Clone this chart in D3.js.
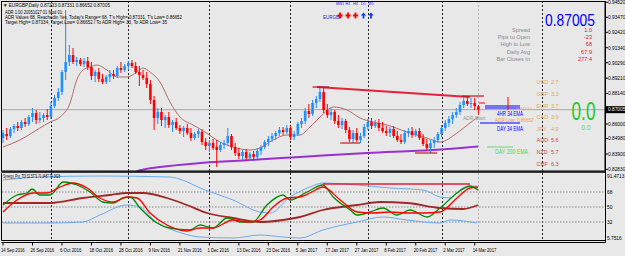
<!DOCTYPE html>
<html><head><meta charset="utf-8">
<script src="https://cdn.jsdelivr.net/npm/d3@7"></script>
<style>
body{margin:0;background:#e8e8e8}
svg{display:block}
text{font-family:"Liberation Sans",Arial,sans-serif}
</style>
</head><body>
<svg id="c" width="625" height="256"></svg>
<script>
// ---------------- DATA ----------------
const opens=[.8502,.8530,.8516,.8565,.8586,.8572,.8614,.8600,.8649,.8677,
.8628,.8642,.8663,.8649,.8726,.8782,.8824,.8964,.9034,.9083,
.9034,.9048,.9020,.9041,.8999,.8936,.8964,.8915,.8894,.8929,
.8950,.8936,.8992,.8978,.9006,.9027,.9006,.8964,.8943,.8922,
.8880,.8768,.8642,.8684,.8628,.8649,.8593,.8614,.8572,.8551,
.8572,.8537,.8502,.8530,.8544,.8474,.8446,.8467,.8439,.8418,
.8453,.8467,.8516,.8439,.8397,.8376,.8404,.8362,.8390,.8369,
.8411,.8439,.8474,.8495,.8516,.8537,.8558,.8544,.8572,.8509,
.8530,.8600,.8621,.8691,.8670,.8747,.8775,.8824,.8698,.8663,
.8684,.8621,.8593,.8621,.8558,.8495,.8537,.8488,.8516,.8579,
.8614,.8586,.8607,.8572,.8551,.8537,.8565,.8516,.8488,.8474,
.8537,.8551,.8523,.8551,.8502,.8460,.8432,.8467,.8488,.8530,
.8572,.8607,.8635,.8663,.8684,.8733,.8761,.8740,.8747,.87233];
const highs=[.8558,.8572,.8579,.8600,.8614,.8628,.8642,.8663,.8712,.8698,
.8684,.8677,.8705,.8754,.8803,.8852,.8978,.9398,.9153,.9132,
.9069,.9062,.9062,.9069,.9034,.8978,.8992,.8950,.8943,.8978,
.8978,.9006,.9034,.9020,.9041,.9048,.9034,.9006,.8978,.8964,
.8908,.8796,.8712,.8712,.8663,.8684,.8628,.8642,.8593,.8586,
.8600,.8572,.8544,.8565,.8565,.8502,.8488,.8495,.8488,.8474,
.8488,.8572,.8530,.8467,.8432,.8418,.8425,.8404,.8411,.8432,
.8453,.8488,.8516,.8537,.8551,.8579,.8579,.8593,.8586,.8551,
.8614,.8642,.8712,.8740,.8768,.8796,.8859,.8852,.8740,.8712,
.8698,.8663,.8642,.8635,.8579,.8558,.8572,.8537,.8600,.8635,
.8642,.8628,.8635,.8614,.8586,.8579,.8586,.8551,.8530,.8558,
.8572,.8579,.8565,.8572,.8530,.8495,.8488,.8509,.8544,.8593,
.8628,.8656,.8684,.8712,.8754,.8782,.8789,.8782,.8782,.87331];
const lows=[.8467,.8488,.8502,.8537,.8551,.8558,.8579,.8586,.8614,.8600,
.8607,.8614,.8628,.8635,.8712,.8761,.8803,.8908,.9006,.9020,
.9006,.9006,.8999,.8978,.8908,.8894,.8894,.8880,.8880,.8894,
.8915,.8922,.8957,.8964,.8978,.8992,.8950,.8866,.8908,.8852,
.8740,.8558,.8600,.8586,.8572,.8572,.8544,.8558,.8530,.8509,
.8523,.8481,.8488,.8502,.8453,.8418,.8404,.8418,.8299,.8404,
.8425,.8446,.8418,.8376,.8355,.8348,.8341,.8341,.8348,.8355,
.8383,.8425,.8446,.8474,.8488,.8516,.8523,.8530,.8488,.8488,
.8516,.8572,.8600,.8642,.8656,.8712,.8754,.8677,.8642,.8628,
.8600,.8572,.8565,.8537,.8474,.8467,.8474,.8467,.8502,.8558,
.8565,.8572,.8551,.8537,.8516,.8509,.8502,.8474,.8460,.8460,
.8509,.8502,.8509,.8488,.8446,.8418,.8397,.8432,.8467,.8509,
.8551,.8579,.8600,.8642,.8663,.8712,.8726,.8712,.8698,.86652];
const closes=[.8537,.8516,.8565,.8586,.8572,.8614,.8600,.8649,.8677,.8628,
.8642,.8663,.8649,.8726,.8782,.8824,.8964,.9034,.9083,.9034,
.9048,.9020,.9041,.8999,.8936,.8964,.8915,.8894,.8929,.8950,
.8936,.8992,.8978,.9006,.9027,.9006,.8964,.8943,.8922,.8880,
.8768,.8642,.8684,.8628,.8649,.8593,.8614,.8572,.8551,.8572,
.8537,.8502,.8530,.8551,.8474,.8446,.8467,.8432,.8418,.8453,
.8467,.8516,.8439,.8397,.8376,.8404,.8362,.8390,.8369,.8411,
.8439,.8474,.8495,.8516,.8537,.8558,.8544,.8572,.8509,.8530,
.8600,.8621,.8691,.8670,.8747,.8775,.8824,.8698,.8663,.8684,
.8621,.8593,.8621,.8558,.8495,.8537,.8488,.8516,.8579,.8614,
.8586,.8607,.8572,.8551,.8537,.8565,.8516,.8488,.8474,.8537,
.8551,.8523,.8551,.8502,.8460,.8432,.8467,.8488,.8530,.8572,
.8607,.8635,.8663,.8684,.8733,.8761,.8740,.8747,.8726,.87005];

const dateLabels=["14 Sep 2016","26 Sep 2016","6 Oct 2016","18 Oct 2016","28 Oct 2016","9 Nov 2016","21 Nov 2016","1 Dec 2016","13 Dec 2016","23 Dec 2016","5 Jan 2017","17 Jan 2017","27 Jan 2017","8 Feb 2017","20 Feb 2017","2 Mar 2017","14 Mar 2017"];
const dateLabelBars=[0,8,16,24,32,40,48,56,64,72,80,88,96,104,112,120,128];
const priceTicks=[0.9452,0.9347,0.9242,0.9134,0.9029,0.8921,0.8814,0.8600,0.8498,0.8390,0.8283];
const priceTickLabels=["0.94520","0.93470","0.92420","0.91340","0.90290","0.89210","0.88140","0.86000","0.84980","0.83900","0.82830"];
const lastPrice=0.87005;
const monthSepBars=[13,34,56,78,99,119,146.3];
const currentBar=129;

// MA lines [bar, price]
const maFast=[[0,.8439],[4.6,.8488],[10,.8572],[12.8,.8614],[15.5,.8649],[18.2,.8747],[20,.8908],[21.7,.8978],[23.6,.8999],[25.5,.9013],[28.2,.8978],[31,.8929],[33.6,.8929],[36.4,.8964],[38,.8992],[39.9,.8964],[42.6,.8894],[45.3,.8754],[48,.8649],[51.6,.8593],[54.8,.8544],[58.9,.8474],[62.4,.8439],[67,.8418],[69.7,.8432],[73.3,.8488],[77,.8523],[80.6,.8523],[83.3,.8579],[86.6,.8663],[89.6,.8719],[93.4,.8698],[96.9,.8642],[100.4,.8614],[104.2,.8593],[109.6,.8544],[115,.8502],[118.6,.8474],[123.2,.8537],[126.7,.8607],[128.9,.8649]];
const ma200=[[28,.8150],[37.2,.8276],[42.6,.8299],[53.5,.8327],[67,.8348],[80.6,.8369],[98.8,.8397],[116.7,.8418],[128.9,.8443]];
const resistance=[[85.2,.8859],[126.7,.8789]];
const resHoriz=[[[84,.8859],[88.5,.8859]],[[124.5,.8796],[130.5,.8796]]];
const supports=[[[91.5,.8467],[96.9,.8467]],[[111.8,.8397],[117.8,.8397]]];

// TDI [bar, value]
const tdiGreen=[[0,52.4],[3.8,64.4],[6.5,66.8],[7.9,71.6],[10,64.4],[12.8,64.4],[16.3,80],[20.1,76.4],[23.6,68],[27.1,56],[29.9,54.8],[32.6,60.8],[34.5,62],[37.2,48.8],[41.8,30.8],[45.3,24.8],[50.7,22.4],[53.5,28.4],[57,24.8],[60.8,36.8],[64.3,32],[67.8,32],[71.6,52.4],[76,64.4],[77.9,58.4],[82.5,68],[86.8,76.4],[89.6,62],[94.2,46.4],[96.1,40.4],[99.6,44],[103.1,48.8],[106.9,40.4],[110.4,46.4],[115.1,38],[118.6,48.8],[123.2,66.8],[126.7,75.2],[128.9,70.4]];
const tdiRed=[[0,44],[3.8,58.4],[8.1,66.8],[11.9,66.8],[15.5,74],[19,78.8],[22.8,72.8],[26.3,60.8],[29.9,56],[33.6,62],[36.4,60.8],[39.9,42.8],[44.5,28.4],[49.9,21.2],[53.5,24.8],[57,24.8],[62.4,34.4],[66.2,32],[69.7,34.4],[73.3,50],[77.1,60.8],[80.6,62],[83.3,66.8],[86.8,74],[91.5,58.4],[96.1,44],[100.4,42.8],[105,44],[109.6,42.8],[114,42.8],[118.6,44],[123.2,60.8],[126.7,72.8],[128.9,74]];
const tdiBase=[[0,54.8],[12.8,54.8],[21.7,60.8],[29,64.4],[33.6,66.8],[38,66.8],[44.5,60.8],[49.9,52.4],[55.4,42.8],[62.4,36.8],[69.7,32],[76,34.4],[80.6,38],[86.8,46.4],[96.1,52.4],[102.3,56],[109.6,54.8],[118.6,48.8],[124.8,47.6],[128.9,52.4]];
const tdiUpper=[[0,82.4],[10,86],[26.3,87.2],[45.3,86],[48.9,82],[53.5,72.8],[62.4,58.4],[69.7,44],[72.5,42.8],[77.9,62],[83.3,74],[86.8,78.8],[96.1,76.4],[105,72.8],[114,70.4],[118.6,62],[121.3,60.8],[124.8,72.8],[128.6,75.2]];
const tdiLower=[[0,30.8],[12.8,30.8],[21.7,32],[26.3,40.4],[33.6,52.4],[37.2,50],[41.8,30.8],[46.1,22.4],[53.5,14],[62.4,12.8],[69.7,16.4],[76,14],[80.6,12.8],[86.8,22.4],[96.1,32],[103.1,38],[109.6,34.4],[118.6,30.8],[121.3,34.4],[128.6,30.8]];
const tdiLevels=[68,50,32];
const tdiResistance=[[86.8,77.6],[126.7,77.6]];
const tdiTitle="Synergy_Pro_TDI 52.5771 71.3487 74.3628";
const tdiTopLabel="91.4713", tdiBottomLabel="5.7516";

const headerLines=["\u25BC EURGBP,Daily  0.87233 0.87331 0.86652 0.87005","ADR 1.00 20051027 01 Mod 01:","ADR Values 68, Reachedin Yes, Today's Range= 68, T's High= 0.87331, T's Low= 0.86652","Target High= 0.87334, Target Low= 0.86652 / To ADR High= 33, To ADR Low= 35"];
const infoLabels=["Spread","Pips to Open","High to Low","Daily Avg","Bar Closes In"];
const infoValues=["1.0","-23","68","67.9","277:4"];
const strengthCcy=["USD","GBP","EUR","CAD","JPY","AUD","NZD","CHF"];
const strengthVal=["2.7","3.3","3.7","3.9","4.9","5.6","5.7","6.3"];
const tfLabels=["MN1","H1","H4","D1","W1"];
const tfDir=[-1,-1,-1,1,1];

// ---------------- DRAW ----------------
const svg=d3.select("#c");
const W=625,H=256;
const LEFT=2,RIGHT=605,MT=1,MB=171,IT=173,IB=240.5;
const x=d3.scaleLinear().domain([0,129]).range([3,478.4]);
const y=d3.scaleLinear().domain([0.8283,0.9452]).range([169.3,2.3]);
const yi=d3.scaleLinear().domain([32,68]).range([222,192]);

svg.append("rect").attr("width",W).attr("height",H).attr("fill","#e8e8e8");
const defs=svg.append("defs");
defs.append("clipPath").attr("id","cm").append("rect").attr("x",LEFT).attr("y",MT).attr("width",RIGHT-LEFT).attr("height",MB-MT);
defs.append("clipPath").attr("id","ci").append("rect").attr("x",LEFT).attr("y",IT).attr("width",RIGHT-LEFT).attr("height",IB-IT);

// separators
const sep=svg.append("g");
monthSepBars.forEach(b=>{
  sep.append("line").attr("x1",Math.round(x(b))+0.5).attr("x2",Math.round(x(b))+0.5).attr("y1",MT).attr("y2",IB)
   .attr("stroke","#222").attr("stroke-dasharray","2,2").attr("stroke-width",1);
});
sep.append("line").attr("x1",Math.round(x(currentBar))+0.5).attr("x2",Math.round(x(currentBar))+0.5).attr("y1",MT).attr("y2",IB)
   .attr("stroke","#b0b0b0").attr("stroke-dasharray","2,2");

const gm=svg.append("g").attr("clip-path","url(#cm)");
// price line
gm.append("line").attr("x1",LEFT).attr("x2",RIGHT).attr("y1",y(lastPrice)).attr("y2",y(lastPrice)).attr("stroke","#a8a8a8");

// MA 200
const ln=d3.line().x(d=>x(d[0])).y(d=>y(d[1])).curve(d3.curveMonotoneX);
gm.append("path").attr("d",ln(ma200)).attr("fill","none").attr("stroke","#9b30d0").attr("stroke-width",2);
gm.append("path").attr("d",ln(maFast)).attr("fill","none").attr("stroke","#b86a66").attr("stroke-width",1);

// candles
const bw=2.6;
const cg=gm.append("g");
closes.forEach((c,i)=>{
  const o=opens[i],col=c>=o?"#1e90ff":"#ff0000";
  cg.append("line").attr("x1",x(i)).attr("x2",x(i)).attr("y1",y(highs[i])).attr("y2",y(lows[i])).attr("stroke",col).attr("stroke-width",1);
  const y0=Math.min(y(o),y(c)),h=Math.max(1,Math.abs(y(o)-y(c)));
  cg.append("rect").attr("x",x(i)-bw/2).attr("y",y0).attr("width",bw).attr("height",h).attr("fill",col);
});

// trend lines
const lnS=d3.line().x(d=>x(d[0])).y(d=>y(d[1]));
gm.append("path").attr("d",lnS(resistance)).attr("stroke","#e8203a").attr("stroke-width",2).attr("fill","none");
resHoriz.forEach(s=>gm.append("path").attr("d",lnS(s)).attr("stroke","#c01020").attr("stroke-width",1.2));
supports.forEach(s=>gm.append("path").attr("d",lnS(s)).attr("stroke","#d01818").attr("stroke-width",1.2));

// right-side annotations (levels beyond last bar)
const ann=gm.append("g");
ann.append("line").attr("x1",485).attr("x2",520).attr("y1",y(0.8726)).attr("y2",y(0.8726)).attr("stroke","#0000ff").attr("stroke-width",1.2);
ann.append("line").attr("x1",485).attr("x2",520).attr("y1",y(0.8712)).attr("y2",y(0.8712)).attr("stroke","#0000ff").attr("stroke-width",1.2);
ann.append("line").attr("x1",480).attr("x2",520).attr("y1",y(0.8607)).attr("y2",y(0.8607)).attr("stroke","#0000ff").attr("stroke-width",1.2);
ann.append("line").attr("x1",487).attr("x2",513).attr("y1",y(0.8439)).attr("y2",y(0.8439)).attr("stroke","#66dd66").attr("stroke-width",1);
ann.append("line").attr("x1",508).attr("x2",508).attr("y1",y(0.8789)).attr("y2",y(0.8698)).attr("stroke","#ff0000").attr("stroke-width",1);
ann.append("line").attr("x1",479).attr("x2",485).attr("y1",y(0.8747)).attr("y2",y(0.8747)).attr("stroke","#ff0000").attr("stroke-width",1);
ann.append("text").attr("x",463).attr("y",120).attr("font-size",5).attr("fill","#8aa0a0").text("ADR Start");
ann.append("text").attr("x",516).attr("y",110).attr("font-size",4.4).attr("fill","#e8b070").text("0.87334");
ann.append("text").attr("x",497).attr("y",115.5).attr("font-size",6.5).attr("fill","#0000ff").attr("textLength",26).attr("lengthAdjust","spacingAndGlyphs").text("4HR 34 EMA");
ann.append("text").attr("x",495).attr("y",121.5).attr("font-size",4.6).attr("fill","#e8a040").text("ADR Low: 0.86652");
ann.append("text").attr("x",497).attr("y",130.5).attr("font-size",6.5).attr("fill","#0000ff").attr("textLength",26).attr("lengthAdjust","spacingAndGlyphs").text("DAY 34 EMA");
ann.append("text").attr("x",495).attr("y",153.5).attr("font-size",6.5).attr("fill","#44dd44").attr("textLength",33).attr("lengthAdjust","spacingAndGlyphs").text("DAY 200 EMA");

// ---------------- indicator ----------------
const gi=svg.append("g").attr("clip-path","url(#ci)");
tdiLevels.forEach(v=>gi.append("line").attr("x1",LEFT).attr("x2",RIGHT).attr("y1",yi(v)).attr("y2",yi(v)).attr("stroke","#888").attr("stroke-dasharray","1.5,1.5"));
const li=d3.line().x(d=>x(d[0])).y(d=>yi(d[1])).curve(d3.curveMonotoneX);
gi.append("path").attr("d",li(tdiUpper)).attr("fill","none").attr("stroke","#6aaaf0").attr("stroke-width",1);
gi.append("path").attr("d",li(tdiLower)).attr("fill","none").attr("stroke","#6aaaf0").attr("stroke-width",1);
gi.append("path").attr("d",li(tdiBase)).attr("fill","none").attr("stroke","#a02828").attr("stroke-width",1.8);
gi.append("path").attr("d",li(tdiGreen)).attr("fill","none").attr("stroke","#008a00").attr("stroke-width",1.3);
gi.append("path").attr("d",li(tdiRed)).attr("fill","none").attr("stroke","#ff0000").attr("stroke-width",1.3);
gi.append("path").attr("d",d3.line().x(d=>x(d[0])).y(d=>yi(d[1]))(tdiResistance)).attr("stroke","#e0203a").attr("stroke-width",1.3);
svg.append("text").attr("x",3).attr("y",178).attr("font-size",5).attr("fill","#000").attr("textLength",57).attr("lengthAdjust","spacingAndGlyphs").text(tdiTitle);

// ---------------- frame ----------------
const fr=svg.append("g").attr("stroke","#000").attr("fill","none");
fr.append("rect").attr("x",1.5).attr("y",1.5).attr("width",RIGHT-1.5).attr("height",MB-1.5);
fr.append("line").attr("x1",1.5).attr("x2",RIGHT).attr("y1",MB+1).attr("y2",MB+1).attr("stroke-width",1.5);
fr.append("line").attr("x1",1.5).attr("x2",1.5).attr("y1",IT).attr("y2",IB);
fr.append("line").attr("x1",1.5).attr("x2",RIGHT).attr("y1",IB).attr("y2",IB);
fr.append("line").attr("x1",1.5).attr("x2",RIGHT+0.5).attr("y1",IB+2).attr("y2",IB+2);
fr.append("line").attr("x1",RIGHT+0.5).attr("x2",RIGHT+0.5).attr("y1",1).attr("y2",IB+2);

// right price axis
const ax=svg.append("g");
priceTicks.forEach((p,k)=>{
  ax.append("line").attr("x1",RIGHT).attr("x2",RIGHT+3).attr("y1",y(p)).attr("y2",y(p)).attr("stroke","#000");
  ax.append("text").attr("x",RIGHT+3).attr("y",y(p)+1.8).attr("font-size",4.8).attr("fill","#000").text(priceTickLabels[k]);
});
ax.append("rect").attr("x",RIGHT+1).attr("y",y(lastPrice)-3.5).attr("width",20).attr("height",7).attr("fill","#000");
ax.append("text").attr("x",RIGHT+3).attr("y",y(lastPrice)+1.8).attr("font-size",4.8).attr("fill","#fff").text("0.87005");
// indicator axis
tdiLevels.forEach(v=>ax.append("text").attr("x",RIGHT+2).attr("y",yi(v)+1.8).attr("font-size",4.8).text(v));
ax.append("text").attr("x",RIGHT+2).attr("y",177.5).attr("font-size",4.8).text(tdiTopLabel);
ax.append("text").attr("x",RIGHT+2).attr("y",240).attr("font-size",4.8).text(tdiBottomLabel);

// date axis
dateLabels.forEach((t,k)=>{
  const xx=x(dateLabelBars[k]);
  ax.append("line").attr("x1",xx).attr("x2",xx).attr("y1",IB+2).attr("y2",IB+5).attr("stroke","#000");
  ax.append("text").attr("x",xx-2).attr("y",252).attr("font-size",4.8).attr("textLength",t.length*2.15).attr("lengthAdjust","spacingAndGlyphs").text(t);
});

// header text
const hw=[107,58,177,162];
headerLines.forEach((t,k)=>{
  svg.append("text").attr("x",k==0?3:5).attr("y",[7,13.5,18.5,23.5][k]).attr("font-size",5).attr("fill","#000")
    .attr("textLength",hw[k]).attr("lengthAdjust","spacingAndGlyphs").text(t);
});

// timeframe arrows
svg.append("text").attr("x",323).attr("y",19).attr("font-size",4.5).attr("fill","#2020e0").text("EURGBP");
tfLabels.forEach((t,k)=>{
  const cx=[340,348,355.5,363.5,371][k];
  svg.append("text").attr("x",cx).attr("y",5).attr("font-size",3.8).attr("fill","#2020e0").attr("text-anchor","middle").text(t);
  const col=tfDir[k]<0?"#ff0000":"#0040ff";
  const gA=svg.append("g").attr("transform",`translate(${cx},15.5)`);
  if(tfDir[k]>0){
    gA.append("path").attr("d","M0,-3L2.6,0H0.9V3H-0.9V0H-2.6Z").attr("fill",col);
  }else{
    gA.append("path").attr("d","M-0.9,-3H0.9V-1H2.6V1H0.9V3H-0.9V1H-2.6V-1H-0.9Z").attr("fill",col);
  }
});

// info panel
svg.append("text").attr("x",595).attr("y",25.5).attr("text-anchor","end").attr("font-size",16.5).attr("fill","#0000ff")
  .attr("textLength",50).attr("lengthAdjust","spacingAndGlyphs").text("0.87005");
infoLabels.forEach((t,k)=>{
  const yy=[32,39,46,53.5,60.5][k];
  svg.append("text").attr("x",530).attr("y",yy).attr("text-anchor","end").attr("font-size",5.6).attr("fill","#8a8a8a").text(t);
  svg.append("text").attr("x",592).attr("y",yy).attr("text-anchor","end").attr("font-size",5.6).attr("fill","#e01818").text(infoValues[k]);
});
strengthCcy.forEach((c,k)=>{
  const yy=[84,96,107.5,119,130.5,142,154,165.5][k];
  const col=k<5?"#e0a860":"#c84848";
  svg.append("text").attr("x",536.5).attr("y",yy).attr("font-size",5.5).attr("fill",col).text(c);
  svg.append("text").attr("x",551).attr("y",yy).attr("font-size",5.5).attr("fill",col).text(strengthVal[k]);
});
svg.append("text").attr("x",583.5).attr("y",120).attr("text-anchor","middle").attr("font-size",25).attr("fill","#22cc22")
  .attr("textLength",24).attr("lengthAdjust","spacingAndGlyphs").text("0.0");
svg.append("text").attr("x",586).attr("y",129.5).attr("text-anchor","middle").attr("font-size",6.5).attr("fill","#66cc66").text("0.0");
</script>
</body></html>
